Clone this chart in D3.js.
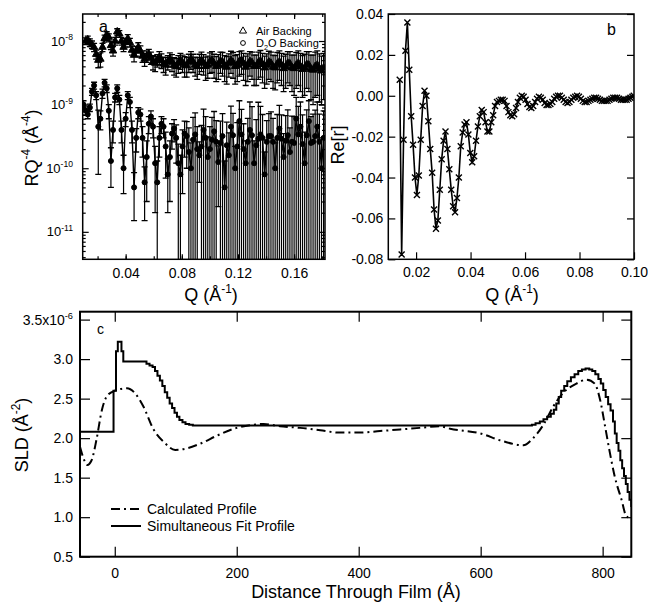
<!DOCTYPE html>
<html>
<head>
<meta charset="utf-8">
<script src="https://cdn.jsdelivr.net/npm/d3@7"></script>
<style>
body { margin: 0; background: #fff; }
svg { display: block; font-family: "Liberation Sans", Arial, sans-serif; }
</style>
</head>
<body>
<script>
// ---- panel a : RQ^4 vs Q, two backings (Q in 1e-4 A^-1, RQ^4 and errors in 1e-10 A^-4)
var qA = [100,115,130,145,160,175,190,205,220,235,250,265,280,295,310,325,340,355,370,385,
  400,415,430,445,460,475,490,505,520,535,550,565,580,595,610,625,640,655,670,685,
  700,715,730,745,760,775,790,805,820,835,850,865,880,895,910,925,940,955,970,985,
  1000,1015,1030,1045,1060,1075,1090,1105,1120,1135,1150,1165,1180,1195,1210,1225,1240,1255,1270,1285,
  1300,1315,1330,1345,1360,1375,1390,1405,1420,1435,1450,1465,1480,1495,1510,1525,1540,1555,1570,1585,
  1600,1615,1630,1645,1660,1675,1690,1705,1720,1735,1750,1765,1780,1795,1810];
var airR = [null,100,105,95,88,80,62,50,52,80,110,125,115,85,70,100,140,130,100,80,
  95,110,95,72,60,70,80,70,58,52,58,62,55,47,45,50,55,50,44,42,
  47,52,47,42,40,45,50,46,42,41,47,52,47,42,40,46,50,45,40,42,
  48,50,44,40,43,49,47,41,39,45,50,46,40,42,48,50,44,39,43,48,
  46,40,40,46,49,43,38,42,47,45,39,38,44,47,42,37,40,45,44,38,
  37,42,45,40,36,38,43,42,36,35,40,42,37,34,38];
var airErr = [0,12,14,13,12,12,10,12,13,12,14,15,15,12,12,14,16,16,14,12,
  14,16,15,12,13,12,14,14,12,12,12,12,12,12,12,11,13,13,12,13,
  12,13,14,13,13,14,14,14,15,14,15,16,15,14,15,16,17,16,16,16,
  17,18,18,17,18,18,19,18,18,18,19,20,19,19,20,20,20,19,20,20,
  21,20,20,21,22,21,20,21,22,22,21,21,22,23,22,21,22,23,24,22,
  23,24,25,24,23,24,25,26,24,25,27,28,26,24,26];
var d2oR = [10,8,7,9,16,20,14,4.5,6,15,22,18,8,1.3,4,13,18,12,4,1.0,
  6,14,11,4,0.5,3,7.5,7,3,0.6,1.5,5,6.5,4.5,1.2,0.6,3,5,4.5,2.2,
  0.8,1.5,3.5,4.2,3,1.2,0.8,2.2,3.5,3.2,1.8,1.0,2.8,3.4,2.0,1.6,2.2,4.0,3.0,1.5,
  2.0,2.8,3.8,2.6,1.25,2.5,3.2,0.5,2.3,1.6,4.5,3.3,1.0,2.2,5.5,3.4,2.0,1.2,2.6,4.0,
  3.3,1.2,2.3,2.9,3.4,3.0,0.8,2.6,3.2,3.2,2.6,1.0,3.0,4.2,2.9,1.5,2.7,3.3,1.8,2.6,
  2.5,6.0,3.4,4.5,2.4,1.2,3.3,5.5,2.5,2.6,3.2,4.5,2.6,1.0,3.0];
var d2oErr = [1.5,1.2,1.0,1.2,2.0,2.5,2.0,3.7,2.0,2.5,3.0,2.5,2.0,0.8,1.5,2.0,2.5,2.0,1.5,0.6,
  1.5,2.0,2.0,1.5,0.35,1.2,1.5,1.5,1.5,0.45,1.2,1.5,1.5,1.5,1.0,0.7,1.5,1.5,1.5,1.5,
  0.6,1.2,1.5,1.6,1.8,1.2,0.8,1.8,2.0,2.2,2.5,1.5,3.5,4.0,2.5,1.0,2.5,4.5,3.5,1.6,
  2.5,3.5,4.0,3.0,1.0,3.0,4.0,0.8,3.0,2.0,5.0,4.0,1.2,3.0,6.0,5.0,3.0,1.5,3.5,7.0,
  6.0,1.5,3.5,8.0,6.0,4.0,1.0,3.0,4.0,4.5,3.5,1.5,4.0,5.5,4.0,2.0,4.0,5.0,2.5,4.0,
  4.0,7.0,6.0,6.5,4.5,2.5,5.0,6.0,4.0,4.5,5.0,6.5,4.5,2.0,5.0];
var xTicksA = [0.02,0.04,0.06,0.08,0.10,0.12,0.14,0.16,0.18];
var xLabelsA = [0.04,0.08,0.12,0.16];
var decadesA = [-8,-9,-10,-11];

// ---- panel b : Re[r] (Q in 1e-4 A^-1, Re[r] in 1e-3)
var qB = [140,147,154,161,168,175,182,189,196,203,210,217,224,231,238,245,252,259,266,273,
  280,287,294,301,308,315,322,329,336,343,350,357,364,371,378,385,392,399,406,413,
  420,427,434,441,448,455,462,469,476,483,490,497,504,511,518,525,532,539,546,553,
  560,567,574,581,588,595,602,609,616,623,630,637,644,651,658,665,672,679,686,693,
  700,707,714,721,728,735,742,749,756,763,770,777,784,791,798,805,812,819,826,833,
  840,847,854,861,868,875,882,889,896,903,910,917,924,931,938,945,952,959,966,973,
  980,987,994,999];
var reB = [7.8,-77.6,-21.5,22,35.8,12.7,-10,-24,-40,-48.5,-39,-21.5,-5,2.5,0,-12.5,-26,-37.7,-55.6,-65,
  -61,-46,-31,-22,-17.5,-26,-36,-46,-54,-57,-50,-40,-24.7,-18,-14,-13,-19,-28,-32.5,-29.6,
  -22,-15,-10,-7,-8,-13,-17.5,-17.5,-13,-9.5,-5,-3,-2.5,-2,-2,-2.5,-5,-8,-9.5,-10,
  -9,-6,-3,-1,0,-0.5,-2,-4,-5.5,-6,-5,-3,-1.5,-0.5,-1,-2,-3.5,-4.5,-4.5,-4,
  -3,-1.5,-0.5,0,0,-1,-2,-3,-3.5,-3,-2,-1,-0.5,0,-0.5,-1.5,-2.5,-3,-3,-2.5,
  -2,-1.5,-1,-1,-1.5,-2,-2.5,-2.5,-2.5,-2.5,-2,-1.5,-1,-1,-1,-1.5,-2,-2,-2,-2,
  -1.5,-1,-0.5,0];
var xTicksB = [0.02,0.04,0.06,0.08,0.10];
var yTicksB = [-0.08,-0.06,-0.04,-0.02,0.00,0.02,0.04];

// ---- panel c : SLD profiles (z in A, SLD in 1e-6 A^-2)
var zCalc = [-57,-50,-45,-38,-30,-21,-13,0,20,33,47,63,82,99,118,140,170,200,227,244,
  271,304,337,369,402,435,468,500,533,550,599,637,670,686,703,719,735,757,774,787,
  796,804,812,820,831,839,842];
var sldCalc = [1.89,1.72,1.66,1.72,1.98,2.36,2.53,2.60,2.63,2.57,2.40,2.12,1.94,1.85,1.87,1.93,2.04,2.13,2.17,2.18,
  2.15,2.13,2.10,2.07,2.07,2.09,2.11,2.13,2.15,2.12,2.06,1.96,1.91,2.00,2.17,2.40,2.57,2.69,2.74,2.69,
  2.48,2.15,1.81,1.51,1.22,1.01,1.00];
var zFit = [-57,-2,2,5,11,14,52,57,62,66,70,74,78,82,86,90,94,98,102,106,
  111,116,122,128,684,690,697,703,709,715,720,724,728,732,737,742,748,754,760,766,
  772,778,783,788,793,797,801,805,809,813,817,820,823,826,829,832,835,838,841,844,847];
var sldFit = [2.08,2.60,3.10,3.22,3.10,2.97,2.94,2.92,2.90,2.85,2.79,2.73,2.66,2.58,2.51,2.44,2.38,2.32,2.27,2.23,
  2.20,2.18,2.17,2.16,2.17,2.19,2.21,2.24,2.27,2.31,2.36,2.44,2.52,2.60,2.66,2.72,2.77,2.81,2.85,2.87,
  2.88,2.87,2.85,2.81,2.75,2.69,2.61,2.52,2.43,2.35,2.21,2.06,1.94,1.84,1.72,1.62,1.52,1.42,1.32,1.22,1.13];
var xTicksC = [0,200,400,600,800];
var yTicksC = [0.5,1.0,1.5,2.0,2.5,3.0,3.5];

var svg = d3.select('body').append('svg')
  .attr('width', 648)
  .attr('height', 602);
svg.append('rect').attr('width', 648).attr('height', 602).attr('fill', '#fff');

// text with super/subscripts
function rich(text, parts, size) {
  var off = 0;
  parts.forEach(function(p) {
    var shift = p[1] === 'sup' ? -0.42 * size : p[1] === 'sub' ? 0.28 * size : 0;
    var t = text.append('tspan').text(p[0]).attr('dy', shift - off);
    if (p[1]) t.attr('font-size', 0.66 * size);
    off = shift;
  });
  return text;
}

// inward ticks through d3.axis
function ticks(g, axis, scale, vals, size, fmt, pad, tx, ty) {
  var a = axis(scale).tickValues(vals).tickSize(-size).tickSizeOuter(0).tickPadding(pad)
    .tickFormat(fmt || function() { return ''; });
  var sel = g.append('g').attr('transform', 'translate(' + tx + ',' + ty + ')').call(a);
  sel.select('.domain').remove();
  sel.attr('font-family', null).attr('font-size', 14);
  sel.selectAll('line').attr('stroke', '#000').attr('stroke-width', 1.2);
  sel.selectAll('text').attr('fill', '#000');
  return sel;
}

function frame(g, x0, y0, x1, y1, w, id) {
  g.append('clipPath').attr('id', id).append('rect')
    .attr('x', x0).attr('y', y0).attr('width', x1 - x0).attr('height', y1 - y0);
  g.append('rect').attr('x', x0).attr('y', y0).attr('width', x1 - x0).attr('height', y1 - y0)
    .attr('fill', 'none').attr('stroke', '#000').attr('stroke-width', w);
}

// ================= panel a
var xA = d3.scaleLinear().domain([0.0094, 0.182]).range([82.7, 325]);
var yA = d3.scaleLog().domain([3.7e-12, 2.66e-8]).range([259.3, 14]);
var gA = svg.append('g');
var plotA = gA.append('g').attr('clip-path', 'url(#clipA)');

function series(vals, errs, symType) {
  var pts = qA.map(function(q, i) {
    return { q: q * 1e-4, v: vals[i] == null ? null : vals[i] * 1e-10, e: errs[i] * 1e-10 };
  }).filter(function(d) { return d.v != null; });
  var g = plotA.append('g');
  g.append('path').datum(pts)
    .attr('d', d3.line().x(function(d) { return xA(d.q); }).y(function(d) { return yA(d.v); }))
    .attr('fill', 'none').attr('stroke', '#000').attr('stroke-width', 1.4);
  var bars = g.selectAll(null).data(pts).enter().append('g');
  bars.append('line')
    .attr('x1', function(d) { return xA(d.q); })
    .attr('x2', function(d) { return xA(d.q); })
    .attr('y1', function(d) { return yA(d.v + d.e); })
    .attr('y2', function(d) { return d.v - d.e > 3.7e-12 ? yA(d.v - d.e) : 262; })
    .attr('stroke', '#000').attr('stroke-width', 1.2);
  bars.append('line')
    .attr('x1', function(d) { return xA(d.q) - 3; })
    .attr('x2', function(d) { return xA(d.q) + 3; })
    .attr('y1', function(d) { return yA(d.v + d.e); })
    .attr('y2', function(d) { return yA(d.v + d.e); })
    .attr('stroke', '#000').attr('stroke-width', 1.3);
  bars.filter(function(d) { return d.v - d.e > 3.7e-12; }).append('line')
    .attr('x1', function(d) { return xA(d.q) - 3; })
    .attr('x2', function(d) { return xA(d.q) + 3; })
    .attr('y1', function(d) { return yA(d.v - d.e); })
    .attr('y2', function(d) { return yA(d.v - d.e); })
    .attr('stroke', '#000').attr('stroke-width', 1.3);
  bars.append('path')
    .attr('d', d3.symbol().type(symType).size(symType === d3.symbolCircle ? 20 : 24))
    .attr('transform', function(d) { return 'translate(' + xA(d.q) + ',' + yA(d.v) + ')'; })
    .attr('fill', '#000').attr('stroke', '#000').attr('stroke-width', 1);
}
series(d2oR, d2oErr, d3.symbolCircle);
series(airR, airErr, d3.symbolTriangle);

frame(gA, 82.7, 14, 325, 259.3, 1.5, 'clipA');
var minorA = [];
[-12, -11, -10, -9, -8].forEach(function(d) {
  for (var m = 2; m <= 9; m++) {
    var v = m * Math.pow(10, d);
    if (v > 3.7e-12 && v < 2.66e-8) minorA.push(v);
  }
});
var majorA = decadesA.map(function(d) { return Math.pow(10, d); });
ticks(gA, d3.axisBottom, xA, xTicksA, 3, null, 0, 0, 259.3);
ticks(gA, d3.axisTop, xA, xTicksA, 3, null, 0, 0, 14);
ticks(gA, d3.axisBottom, xA, xLabelsA, 5, function(d) { return d.toFixed(2); }, 9, 0, 259.3);
ticks(gA, d3.axisTop, xA, xLabelsA, 5, null, 0, 0, 14);
ticks(gA, d3.axisLeft, yA, minorA, 3, null, 0, 82.7, 0);
ticks(gA, d3.axisRight, yA, minorA, 3, null, 0, 325, 0);
ticks(gA, d3.axisLeft, yA, majorA, 6, null, 0, 82.7, 0);
ticks(gA, d3.axisRight, yA, majorA, 6, null, 0, 325, 0);
decadesA.forEach(function(d) {
  rich(gA.append('text').attr('x', 73).attr('y', yA(Math.pow(10, d)) + 4.5)
    .attr('text-anchor', 'end').attr('font-size', 13),
    [['10'], ['-' + Math.abs(d), 'sup']], 13);
});
rich(gA.append('text').attr('transform', 'translate(38,148) rotate(-90)')
  .attr('text-anchor', 'middle').attr('font-size', 18),
  [['RQ'], ['-4', 'sup'], [' (Å'], ['-4', 'sup'], [')']], 18);
rich(gA.append('text').attr('x', 211).attr('y', 301)
  .attr('text-anchor', 'middle').attr('font-size', 18),
  [['Q (Å'], ['-1', 'sup'], [')']], 18);
gA.append('text').attr('x', 99).attr('y', 32).attr('font-size', 16).text('a');
// legend a
gA.append('path').attr('d', d3.symbol().type(d3.symbolTriangle).size(22))
  .attr('transform', 'translate(243,31)').attr('fill', 'none').attr('stroke', '#000').attr('stroke-width', 1);
gA.append('circle').attr('cx', 243).attr('cy', 43).attr('r', 2.4)
  .attr('fill', 'none').attr('stroke', '#000').attr('stroke-width', 1);
gA.append('text').attr('x', 256).attr('y', 35).attr('font-size', 11).text('Air Backing');
rich(gA.append('text').attr('x', 256).attr('y', 47).attr('font-size', 11),
  [['D'], ['2', 'sub'], ['O Backing']], 11);

// ================= panel b
var xB = d3.scaleLinear().domain([0.0098, 0.10]).range([388.3, 634]);
var yB = d3.scaleLinear().domain([-0.08, 0.04]).range([259.3, 14]);
var gB = svg.append('g');
var ptsB = qB.map(function(q, i) { return { q: q * 1e-4, v: reB[i] * 1e-3 }; });
var plotB = gB.append('g').attr('clip-path', 'url(#clipB)');
plotB.append('path').datum(ptsB)
  .attr('d', d3.line().x(function(d) { return xB(d.q); }).y(function(d) { return yB(d.v); }))
  .attr('fill', 'none').attr('stroke', '#000').attr('stroke-width', 1.6);
plotB.selectAll(null).data(ptsB).enter().append('path')
  .attr('d', 'M-3,-3L3,3M-3,3L3,-3')
  .attr('transform', function(d) { return 'translate(' + xB(d.q) + ',' + yB(d.v) + ')'; })
  .attr('stroke', '#000').attr('stroke-width', 1.4).attr('fill', 'none');
frame(gB, 388.3, 14, 634, 259.3, 1.5, 'clipB');
ticks(gB, d3.axisBottom, xB, xTicksB, 7, function(d) { return d.toFixed(2); }, 8, 0, 259.3);
ticks(gB, d3.axisLeft, yB, yTicksB, 7, function(d) { return d.toFixed(2).replace('-0.00', '0.00'); }, 5, 388.3, 0);
ticks(gB, d3.axisRight, yB, yTicksB, 7, null, 0, 634, 0);
gB.append('text').attr('transform', 'translate(344,145) rotate(-90)')
  .attr('text-anchor', 'middle').attr('font-size', 18).text('Re[r]');
rich(gB.append('text').attr('x', 512).attr('y', 301)
  .attr('text-anchor', 'middle').attr('font-size', 18),
  [['Q (Å'], ['-1', 'sup'], [')']], 18);
gB.append('text').attr('x', 607).attr('y', 35).attr('font-size', 16).text('b');

// ================= panel c
var xC = d3.scaleLinear().domain([-57, 847]).range([80, 631.3]);
var yC = d3.scaleLinear().domain([0.5, 3.6]).range([556.7, 311.7]);
var gC = svg.append('g');
var plotC = gC.append('g').attr('clip-path', 'url(#clipC)');
plotC.append('path')
  .datum(zCalc.map(function(z, i) { return [z, sldCalc[i]]; }))
  .attr('d', d3.line().curve(d3.curveMonotoneX)
    .x(function(d) { return xC(d[0]); }).y(function(d) { return yC(d[1]); }))
  .attr('fill', 'none').attr('stroke', '#000').attr('stroke-width', 2)
  .attr('stroke-dasharray', '9,4,2,4');
plotC.append('path')
  .datum(zFit.map(function(z, i) { return [z, sldFit[i]]; }))
  .attr('d', d3.line().curve(d3.curveStepAfter)
    .x(function(d) { return xC(d[0]); }).y(function(d) { return yC(d[1]); }))
  .attr('fill', 'none').attr('stroke', '#000').attr('stroke-width', 2);
frame(gC, 80, 311.7, 631.3, 556.7, 2, 'clipC');
ticks(gC, d3.axisBottom, xC, xTicksC, 10, function(d) { return d; }, 11, 0, 556.7);
ticks(gC, d3.axisTop, xC, xTicksC, 10, null, 0, 0, 311.7);
ticks(gC, d3.axisLeft, yC, yTicksC, 10, function(d) { return d === 3.5 ? '' : d.toFixed(1); }, 7, 80, 0);
ticks(gC, d3.axisRight, yC, yTicksC, 10, null, 0, 631.3, 0);
rich(gC.append('text').attr('x', 73).attr('y', yC(3.5) + 5)
  .attr('text-anchor', 'end').attr('font-size', 14),
  [['3.5x10'], ['-6', 'sup']], 14);
rich(gC.append('text').attr('transform', 'translate(28,435) rotate(-90)')
  .attr('text-anchor', 'middle').attr('font-size', 18),
  [['SLD (Å'], ['-2', 'sup'], [')']], 18);
gC.append('text').attr('x', 356).attr('y', 598)
  .attr('text-anchor', 'middle').attr('font-size', 18).text('Distance Through Film (Å)');
gC.append('text').attr('x', 97).attr('y', 334).attr('font-size', 14).text('c');
// legend c
gC.append('line').attr('x1', 111).attr('x2', 141).attr('y1', 509).attr('y2', 509)
  .attr('stroke', '#000').attr('stroke-width', 2).attr('stroke-dasharray', '9,4,2,4');
gC.append('line').attr('x1', 111).attr('x2', 141).attr('y1', 526).attr('y2', 526)
  .attr('stroke', '#000').attr('stroke-width', 2);
gC.append('text').attr('x', 147).attr('y', 514).attr('font-size', 14).text('Calculated Profile');
gC.append('text').attr('x', 147).attr('y', 531).attr('font-size', 14).text('Simultaneous Fit Profile');
</script>
</body>
</html>
